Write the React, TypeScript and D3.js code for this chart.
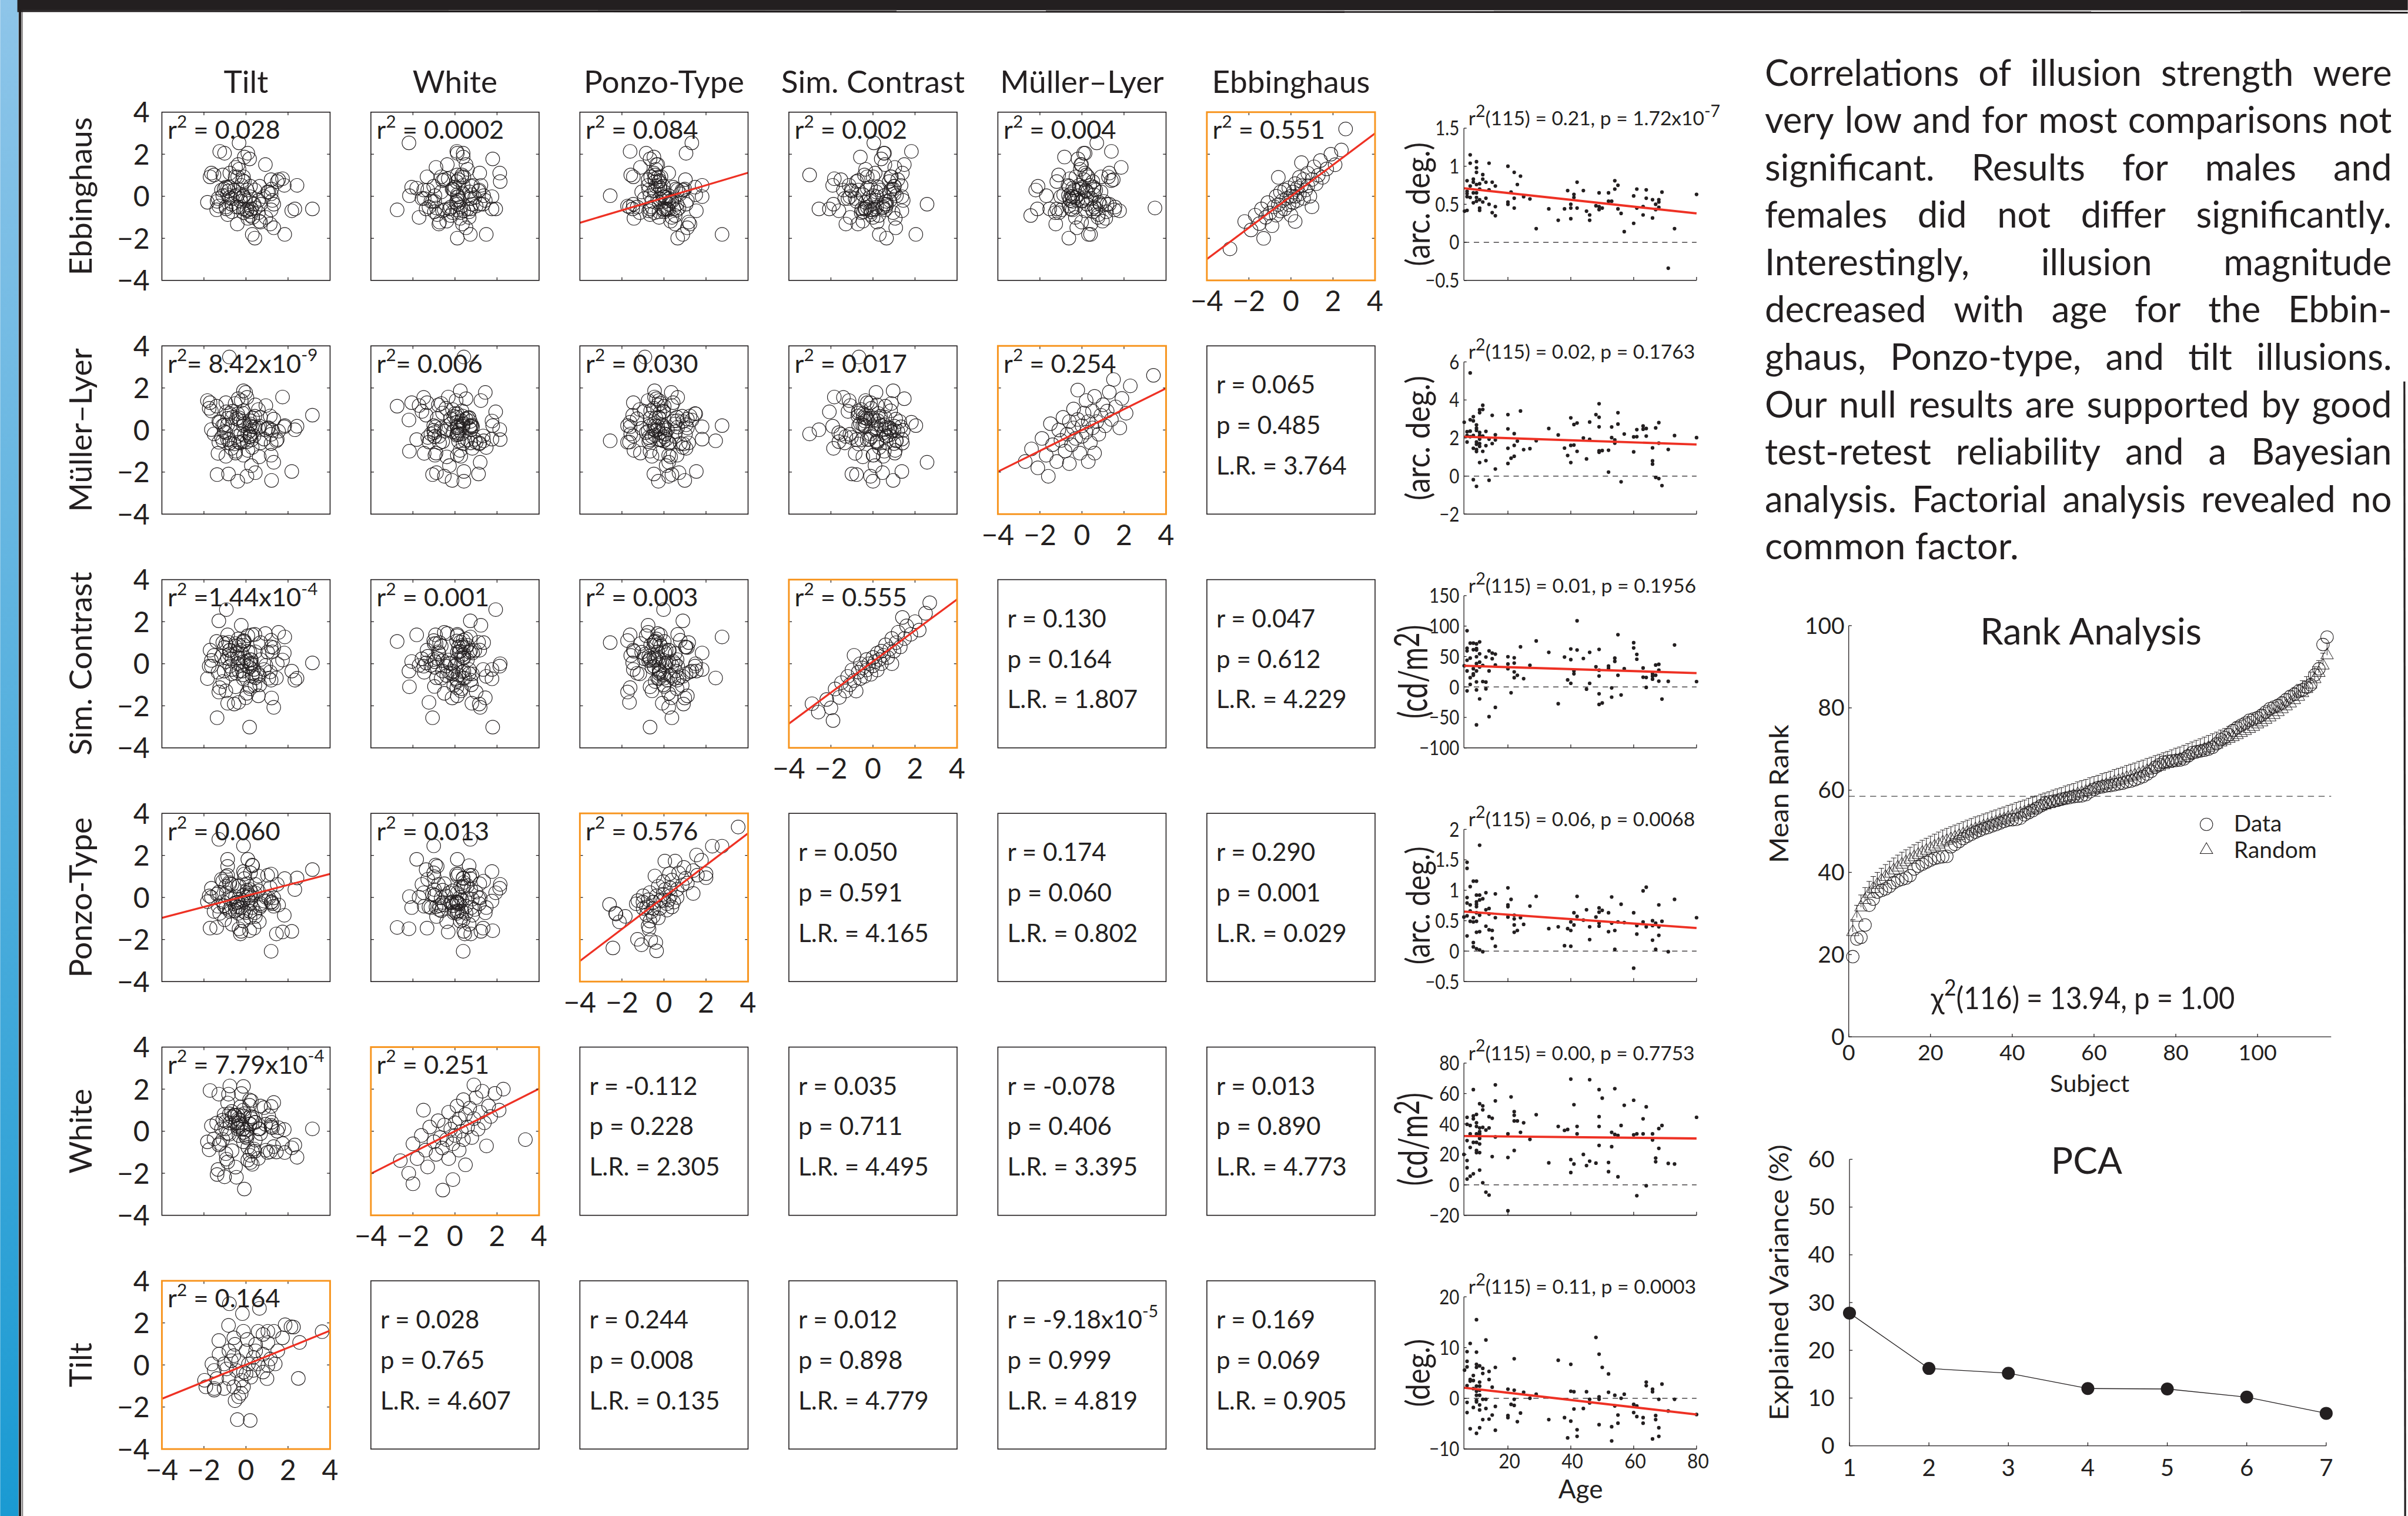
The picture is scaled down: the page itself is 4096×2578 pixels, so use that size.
import React from 'react';
import * as d3 from 'd3';

// ---------- canvas / style ----------
const VW = 6313, VH = 3974;
const OUT_W = 4096, OUT_H = 2578;
const FONT = "Lato, 'Noto Sans', sans-serif";
const INK = '#231f20';
const RED = '#ee3124';
const ORANGE = '#f7941d';

// ---------- matrix labels ----------
const COL_NAMES = ['Tilt', 'White', 'Ponzo-Type', 'Sim. Contrast', 'Müller–Lyer', 'Ebbinghaus'];
const ROW_NAMES = ['Ebbinghaus', 'Müller–Lyer', 'Sim. Contrast', 'Ponzo-Type', 'White', 'Tilt'];
const COL_KEYS = ['tilt', 'white', 'ponzo', 'sc', 'ml', 'ebb'];
const ROW_KEYS = ['ebb', 'ml', 'sc', 'ponzo', 'white', 'tilt'];
const SCATTER_TICKS = [-4, -2, 0, 2, 4];

const SCATTER_R2 = [
  ['r^{2} = 0.028', 'r^{2} = 0.0002', 'r^{2} = 0.084', 'r^{2} = 0.002', 'r^{2} = 0.004', 'r^{2} = 0.551'],
  ['r^{2}= 8.42x10^{-9}', 'r^{2}= 0.006', 'r^{2} = 0.030', 'r^{2} = 0.017', 'r^{2} = 0.254'],
  ['r^{2} =1.44x10^{-4}', 'r^{2} = 0.001', 'r^{2} = 0.003', 'r^{2} = 0.555'],
  ['r^{2} = 0.060', 'r^{2} = 0.013', 'r^{2} = 0.576'],
  ['r^{2} = 7.79x10^{-4}', 'r^{2} = 0.251'],
  ['r^{2} = 0.164'],
];

// [row, col, r, p, L.R.]
const STAT_CELLS = [
  [1, 5, '0.065', '0.485', '3.764'],
  [2, 4, '0.130', '0.164', '1.807'],
  [2, 5, '0.047', '0.612', '4.229'],
  [3, 3, '0.050', '0.591', '4.165'],
  [3, 4, '0.174', '0.060', '0.802'],
  [3, 5, '0.290', '0.001', '0.029'],
  [4, 2, '-0.112', '0.228', '2.305'],
  [4, 3, '0.035', '0.711', '4.495'],
  [4, 4, '-0.078', '0.406', '3.395'],
  [4, 5, '0.013', '0.890', '4.773'],
  [5, 1, '0.028', '0.765', '4.607'],
  [5, 2, '0.244', '0.008', '0.135'],
  [5, 3, '0.012', '0.898', '4.779'],
  [5, 4, '-9.18x10^{-5}', '0.999', '4.819'],
  [5, 5, '0.169', '0.069', '0.905'],
];

// regression lines in scatter cells: [row, col, y at x=-4, y at x=4]
const SCATTER_FITS = [
  [0, 2, -1.26, 1.12],
  [0, 5, -2.99, 2.99],
  [1, 4, -1.98, 1.98],
  [2, 3, -2.85, 3.06],
  [3, 0, -0.97, 1.12],
  [3, 2, -3.02, 3.05],
  [4, 1, -2.02, 2.02],
  [5, 0, -1.61, 1.63],
];

// ---------- test-retest (diagonal) z-scores [session1, session2] ----------
const DIAG_EBB = [[-2.9,-2.5],[-2.2,-1.2],[-1.9,-1.6],[-1.7,-0.9],[-1.5,-1.3],[-1.4,-0.6],[-1.2,-1.0],[-1.1,-0.3],[-1.0,-0.8],[-0.9,-1.4],[-0.8,-0.5],[-0.7,0.0],[-0.7,-0.9],[-0.6,-0.4],[-0.5,-0.7],[-0.5,0.2],[-0.4,-0.2],[-0.3,-0.6],[-0.3,0.3],[-0.2,-0.1],[-0.1,-0.4],[-0.1,0.4],[0.0,0.0],[0.0,-0.9],[0.1,0.2],[0.1,-0.3],[0.2,0.6],[0.2,0.0],[0.3,-0.2],[0.3,0.4],[0.4,0.9],[0.4,0.1],[0.5,0.5],[0.6,-0.1],[0.6,0.8],[0.7,0.3],[0.8,1.1],[0.8,0.5],[0.9,0.0],[1.0,0.8],[1.1,1.4],[1.2,0.6],[1.3,1.0],[1.4,1.7],[1.5,0.9],[1.7,1.3],[1.9,2.0],[2.1,1.5],[2.4,2.2],[0.5,1.6],[-0.6,0.9],[1.0,-0.5],[-1.3,-2.0],[2.6,3.2],[0.2,-1.2]];
const DIAG_ML = [[-2.7,-1.5],[-2.4,-0.9],[-2.1,-1.8],[-1.9,-0.4],[-1.7,-1.2],[-1.5,0.3],[-1.4,-0.7],[-1.2,-1.5],[-1.1,0.0],[-1.0,-0.5],[-0.9,0.6],[-0.8,-1.0],[-0.7,-0.2],[-0.6,0.4],[-0.5,-0.7],[-0.4,1.0],[-0.4,0.1],[-0.3,-0.4],[-0.2,0.5],[-0.1,-1.1],[0.0,0.2],[0.0,-0.3],[0.1,0.8],[0.2,-0.1],[0.2,1.4],[0.3,0.4],[0.4,-0.6],[0.5,0.1],[0.5,0.9],[0.6,1.6],[0.7,0.4],[0.8,-0.2],[0.9,0.7],[1.0,1.2],[1.1,0.2],[1.2,0.9],[1.3,1.8],[1.4,0.5],[1.6,1.1],[1.8,0.1],[1.9,1.5],[2.1,0.8],[2.3,2.1],[3.4,2.6],[-0.6,-1.6],[0.6,-1.1],[-1.6,-2.2],[1.5,2.4],[-0.2,1.9],[0.3,-1.5]];
const DIAG_SC = [[-2.6,-2.3],[-2.2,-1.7],[-2.0,-2.1],[-1.8,-1.2],[-1.6,-1.6],[-1.5,-0.9],[-1.3,-1.3],[-1.2,-0.6],[-1.1,-1.0],[-1.0,-0.3],[-0.9,-0.8],[-0.8,-1.3],[-0.7,-0.4],[-0.6,0.0],[-0.6,-0.7],[-0.5,-0.2],[-0.4,-0.6],[-0.3,0.2],[-0.3,-0.3],[-0.2,0.0],[-0.1,-0.5],[0.0,0.3],[0.0,-0.1],[0.1,0.1],[0.2,0.5],[0.2,-0.3],[0.3,0.2],[0.4,0.6],[0.4,0.0],[0.5,0.4],[0.6,0.9],[0.7,0.3],[0.8,0.7],[0.9,1.2],[1.0,0.6],[1.1,1.0],[1.2,1.5],[1.3,0.8],[1.5,1.2],[1.6,1.8],[1.8,1.4],[2.0,2.0],[2.2,1.6],[2.5,2.4],[-1.9,-2.7],[1.4,2.2],[0.9,0.0],[-0.9,0.4],[2.7,2.9],[-2.9,-1.9]];
const DIAG_PONZO = [[3.53,3.35],[2.30,2.44],[2.76,2.44],[1.55,2.02],[1.78,1.77],[0.04,1.73],[0.53,1.73],[0.95,1.43],[-0.43,1.02],[0.26,1.13],[0.70,1.17],[1.39,1.28],[1.59,1.06],[2.00,0.94],[1.03,0.91],[1.39,0.19],[0.38,0.83],[-0.03,0.75],[0.87,0.60],[-0.27,0.53],[0.30,0.45],[0.62,0.38],[-0.67,0.23],[-0.35,0.08],[-0.03,0.15],[0.30,0.08],[0.62,0.0],[-1.24,-0.15],[-1.0,-0.22],[-0.75,-0.11],[-0.51,-0.22],[-0.19,-0.15],[0.14,-0.30],[0.46,-0.22],[-0.83,-0.45],[-0.51,-0.52],[-0.19,-0.52],[0.14,-0.60],[0.38,-0.45],[-0.83,-0.82],[-0.51,-0.90],[-0.27,-0.97],[-0.67,-1.12],[-0.75,-1.35],[-0.71,-1.50],[-2.59,-0.33],[-2.30,-0.75],[-2.28,-0.79],[-1.84,-0.90],[-2.12,-1.16],[-2.43,-2.40],[-1.26,-1.99],[-1.07,-2.25],[-0.63,-2.02],[-0.39,-2.14],[-0.35,-2.54],[-0.99,0.08],[-1.32,-0.30],[0.06,0.38],[1.11,0.68],[2.0,1.13],[-0.03,-0.15],[0.22,-0.11],[-0.59,-0.67],[-0.99,-0.52]];
const DIAG_WHITE = [[-2.6,-1.4],[-2.2,-2.0],[-2.0,-0.6],[-1.8,-1.3],[-1.6,-0.2],[-1.4,-0.9],[-1.3,-1.7],[-1.2,0.2],[-1.0,-0.5],[-0.9,-1.1],[-0.8,0.5],[-0.7,-0.3],[-0.6,-0.8],[-0.58,-2.8],[-0.5,0.3],[-0.4,-0.4],[-0.3,0.9],[-0.3,-1.3],[-0.2,0.1],[-0.1,-0.6],[0.0,0.4],[0.0,-0.2],[0.1,1.2],[0.2,-0.9],[0.2,0.6],[0.3,0.0],[0.4,1.5],[0.4,-0.4],[0.5,0.8],[0.6,0.2],[0.7,1.1],[0.8,-0.3],[0.9,0.6],[1.0,1.6],[1.1,0.1],[1.2,0.9],[1.3,1.9],[1.4,0.4],[1.6,1.2],[1.7,0.7],[1.9,1.8],[2.1,1.0],[2.3,2.0],[3.35,-0.4],[-0.1,-2.3],[0.5,-1.6],[-1.5,1.0],[0.9,2.2],[-2.0,-2.5],[1.5,-0.7]];
const DIAG_TILT = [[-0.79,2.91],[-0.17,2.44],[0.64,2.69],[-0.83,1.88],[2.14,1.81],[2.26,1.80],[3.62,1.58],[-1.29,1.16],[-0.58,1.29],[-0.12,1.60],[0.58,1.60],[1.04,1.60],[1.33,1.60],[0.81,1.45],[1.74,1.29],[2.55,1.07],[0.06,1.21],[0.46,0.98],[1.04,1.06],[-0.52,0.98],[-0.81,0.67],[0.0,0.67],[1.51,0.67],[0.81,0.51],[-1.28,0.51],[-0.58,0.44],[0.35,0.36],[1.16,0.28],[-1.62,0.05],[-1.04,0.05],[-0.35,0.20],[0.12,0.05],[0.58,0.05],[1.04,-0.03],[1.39,0.05],[-1.51,-0.26],[-0.93,-0.19],[-0.46,-0.26],[-0.12,-0.34],[0.35,-0.26],[0.81,-0.34],[2.49,-0.64],[-1.97,-0.73],[-1.39,-0.65],[-0.81,-0.65],[-0.23,-0.73],[0.23,-0.58],[1.0,-0.65],[-1.91,-1.04],[-1.51,-1.12],[-1.04,-1.12],[-0.58,-1.04],[-0.12,-1.04],[-1.51,-1.20],[-0.23,-1.35],[-0.35,-1.51],[-0.52,-1.70],[-0.41,-2.60],[0.20,-2.64],[0.0,-0.42],[-0.70,0.20],[0.46,0.67],[1.86,1.91]];
const DIAG_BY_ROW = [DIAG_EBB, DIAG_ML, DIAG_SC, DIAG_PONZO, DIAG_WHITE, DIAG_TILT];

// ---------- illusion magnitude vs age: [age, value] ----------
const EBB_AGE = [[6.2,0.41],[7,0.81],[7,0.67],[7,0.64],[7,0.60],[7,0.42],[8,1.15],[8,1.04],[8,0.74],[8,0.59],[9,0.83],[9,0.79],[9,0.65],[9,0.52],[10,1.06],[10,0.98],[10,0.92],[10,0.76],[10,0.65],[10,0.59],[10,0.54],[11,0.77],[11,0.70],[11,0.56],[11,0.45],[11,0.42],[12,0.89],[12,0.83],[12,0.53],[13,0.79],[13,0.58],[14,1.04],[14,0.69],[14,0.50],[15,0.79],[15,0.39],[16,0.74],[16,0.47],[16,0.35],[20,1.0],[20,0.53],[20,0.50],[21,0.66],[22,0.92],[22,0.58],[22,0.45],[23,0.76],[24,0.87],[25,0.60],[27,0.57],[29,0.18],[33,0.44],[36,0.29],[38,0.44],[39,0.68],[40,0.50],[40,0.45],[40,0.31],[41,0.63],[41,0.59],[42,0.79],[42,0.45],[44,0.68],[45,0.41],[46,0.36],[46,0.29],[48,0.48],[49,0.65],[49,0.47],[49,0.43],[50,0.45],[52,0.65],[52,0.54],[53,0.54],[54,0.81],[54,0.70],[55,0.75],[55,0.44],[56,0.38],[57,0.14],[60,0.61],[60,0.25],[61,0.70],[61,0.45],[63,0.47],[63,0.36],[64,0.69],[64,0.58],[66,0.56],[66,0.32],[67,0.50],[67,0.43],[68,0.56],[68,0.53],[68,0.46],[69,0.66],[71,-0.34],[73,0.18],[80,0.63]];
const ML_AGE = [[6.1,2.83],[7,2.33],[7,2.13],[7,1.79],[8,5.42],[8,2.96],[8,2.36],[8,2.07],[9,3.12],[9,2.90],[9,2.13],[9,1.46],[9,-0.19],[10,2.69],[10,2.52],[10,2.40],[10,1.79],[10,1.67],[10,1.40],[10,1.29],[10,-0.54],[11,3.48],[11,3.33],[11,2.29],[11,2.13],[11,1.94],[11,1.71],[11,1.56],[11,0.71],[12,3.72],[12,3.50],[12,2.10],[12,1.30],[13,2.35],[13,1.60],[13,0.81],[14,1.94],[14,-0.22],[15,3.19],[15,1.71],[16,2.17],[16,1.90],[16,0.37],[20,3.23],[20,2.48],[20,1.46],[20,0.66],[21,0.94],[22,2.23],[22,1.61],[22,1.04],[23,1.84],[24,3.42],[25,1.39],[27,1.44],[29,1.86],[33,2.50],[36,2.16],[38,1.47],[39,1.08],[40,3.06],[40,1.61],[40,0.71],[41,2.71],[41,1.63],[42,2.79],[42,1.30],[44,2.00],[45,0.90],[46,2.84],[46,1.93],[48,3.23],[49,3.80],[49,3.09],[49,2.59],[49,1.33],[49,1.25],[50,1.34],[52,1.36],[52,0.21],[53,2.58],[53,2.02],[54,1.90],[54,1.73],[55,3.33],[55,2.73],[56,-0.30],[57,2.21],[60,2.06],[60,1.27],[61,2.44],[61,2.07],[63,2.63],[63,2.46],[64,2.50],[64,2.10],[66,1.48],[66,0.80],[66,0.63],[67,2.53],[67,-0.07],[68,2.81],[68,1.73],[68,-0.13],[69,-0.50],[71,1.40],[73,2.13],[80,2.02]];
const SC_AGE = [[6.1,34.8],[7,92.4],[7,63.6],[7,59.3],[7,43.9],[7,26.4],[7,-6.4],[8,72.0],[8,47.3],[8,15.2],[8,4.1],[9,72.0],[9,61.2],[9,30.0],[9,21.6],[9,19.2],[10,70.8],[10,63.1],[10,60.7],[10,49.7],[10,38.4],[10,26.4],[10,8.4],[10,-4.8],[10,-62.3],[11,74.0],[11,54.5],[11,40.8],[11,32.9],[11,-19.6],[12,35.3],[12,8.9],[13,49.2],[13,8.0],[13,-3.1],[14,59.3],[14,26.4],[14,-48.7],[15,55.7],[15,46.4],[16,54.0],[16,36.0],[16,-33.5],[20,49.7],[20,37.7],[20,30.0],[21,-9.5],[22,48.0],[22,39.2],[22,24.8],[22,15.2],[23,19.2],[24,66.0],[25,13.7],[27,35.6],[29,75.6],[33,56.9],[36,-27.5],[38,49.2],[39,11.6],[40,62.4],[40,44.9],[40,6.0],[41,26.4],[41,21.6],[42,108.7],[42,60.7],[44,46.8],[45,-3.6],[46,56.9],[46,6.0],[48,33.2],[49,61.7],[49,27.6],[49,18.0],[49,-11.2],[49,-28.7],[50,-26.3],[52,34.4],[52,30.8],[53,-1.6],[53,-16.7],[54,47.3],[54,42.0],[55,85.9],[55,19.2],[56,-13.1],[57,30.0],[60,72.7],[60,64.1],[61,53.5],[61,45.6],[63,31.2],[63,16.1],[64,15.6],[64,-0.7],[66,21.6],[66,17.6],[66,12.8],[67,36.0],[67,19.2],[68,37.2],[68,27.6],[68,9.6],[69,-19.9],[71,9.2],[73,68.9],[80,8.9]];
const PONZO_AGE = [[6,0.56],[7,1.46],[7,1.36],[7,0.88],[7,0.79],[7,0.58],[7,0.25],[8,1.06],[8,0.76],[8,0.66],[8,0.49],[9,1.15],[9,0.55],[9,0.48],[9,0.14],[9,0.07],[10,1.15],[10,0.92],[10,0.81],[10,0.77],[10,0.73],[10,0.63],[10,0.49],[10,0.31],[10,0.04],[11,1.74],[11,0.92],[11,0.84],[11,0.59],[11,0.32],[11,0.02],[12,0.86],[12,-0.01],[13,0.96],[13,0.68],[13,0.41],[14,0.70],[14,0.61],[14,0.35],[15,0.34],[15,0.21],[16,0.94],[16,0.55],[16,0.08],[20,1.04],[20,0.76],[20,0.73],[20,0.56],[21,0.85],[22,0.59],[22,0.53],[22,0.43],[22,0.31],[23,0.34],[24,0.55],[25,0.44],[27,0.74],[29,0.90],[33,0.37],[36,0.40],[38,0.09],[39,0.37],[40,0.48],[40,0.34],[40,0.08],[41,0.63],[41,0.43],[42,0.90],[42,0.57],[44,0.51],[45,0.68],[46,0.40],[46,0.19],[48,0.56],[49,0.71],[49,0.64],[49,0.46],[49,0.41],[50,0.67],[52,0.63],[52,0.32],[53,0.89],[53,0.46],[54,0.34],[54,0.03],[55,0.48],[56,0.77],[57,0.47],[60,0.63],[60,-0.28],[61,0.42],[61,0.28],[63,0.99],[63,0.48],[64,1.05],[64,0.40],[66,0.50],[66,0.42],[66,0.18],[67,0.46],[67,0.03],[68,0.76],[68,0.40],[68,0.26],[69,0.49],[71,-0.01],[73,0.85],[80,0.55]];
const WHITE_AGE = [[6,20.0],[7,44.4],[7,39.8],[7,29.1],[7,16.0],[7,11.3],[7,3.8],[8,39.0],[8,33.5],[8,24.6],[8,5.7],[9,62.6],[9,45.3],[9,43.4],[9,27.9],[9,7.3],[10,46.3],[10,40.8],[10,38.4],[10,33.5],[10,27.9],[10,22.6],[10,21.2],[11,53.3],[11,37.4],[11,35.0],[11,33.5],[11,30.5],[11,26.9],[11,21.2],[11,9.7],[12,51.9],[12,49.3],[12,37.8],[12,1.4],[13,36.0],[13,-4.8],[14,44.8],[14,37.4],[14,-6.7],[15,43.8],[15,18.6],[16,65.7],[16,55.2],[16,31.5],[20,33.5],[20,18.0],[20,-17.0],[21,57.8],[22,48.1],[22,45.7],[22,42.0],[22,22.6],[23,42.0],[24,34.5],[25,40.8],[27,29.9],[29,46.1],[33,14.5],[36,38.4],[38,35.8],[39,36.4],[40,69.5],[40,16.6],[40,8.1],[41,52.7],[41,13.7],[42,38.4],[42,33.5],[44,20.0],[45,12.7],[46,69.1],[46,15.6],[48,14.3],[49,62.6],[49,44.8],[49,38.4],[49,25.9],[50,57.0],[52,14.7],[52,8.7],[53,34.5],[53,25.1],[54,63.2],[54,33.1],[55,32.5],[55,5.3],[56,39.0],[57,52.3],[60,55.6],[60,32.9],[61,33.5],[61,-7.1],[63,43.4],[63,33.5],[64,51.3],[64,-0.6],[66,33.5],[66,29.5],[67,17.6],[67,15.2],[68,37.0],[68,24.0],[69,39.0],[71,14.1],[73,13.7],[80,44.4]];
const TILT_AGE = [[6.2,5.55],[7,9.2],[7,7.3],[7,6.2],[7,2.5],[7,-0.8],[7,-2.8],[8,10.8],[8,3.7],[8,3.4],[8,-6.0],[9,4.5],[9,3.5],[9,1.9],[9,-1.8],[10,15.5],[10,9.1],[10,6.7],[10,6.1],[10,2.4],[10,1.4],[10,0.6],[10,-0.4],[10,-0.7],[10,-6.9],[11,6.4],[11,3.2],[11,2.4],[11,1.6],[11,0.6],[11,-1.3],[11,-2.3],[11,-5.8],[12,5.9],[12,4.9],[12,-0.2],[12,-4.2],[13,11.5],[13,-0.2],[13,-2.0],[14,5.3],[14,3.7],[14,-4.1],[15,2.2],[15,-3.3],[16,6.1],[16,-1.6],[16,-6.3],[20,1.8],[20,-3.4],[20,-3.8],[21,-1.2],[22,7.8],[22,1.6],[22,-0.2],[22,-1.4],[23,-4.6],[24,-2.9],[25,1.2],[27,0.0],[29,0.8],[33,-4.2],[36,7.5],[38,-3.8],[39,-7.8],[40,6.7],[40,1.4],[40,-4.5],[41,1.3],[41,-2.1],[42,-6.2],[42,-7.5],[44,-2.0],[45,1.3],[46,-0.2],[46,-0.9],[48,12.0],[49,8.7],[49,0.3],[49,-0.2],[49,-5.2],[50,6.1],[52,4.8],[52,1.2],[53,-5.6],[53,-8.4],[54,0.6],[54,-1.5],[55,-3.3],[55,-4.9],[56,0.0],[57,0.8],[60,-1.2],[60,-2.8],[61,-1.5],[61,-3.6],[63,-3.8],[63,-4.9],[64,3.2],[64,2.5],[66,1.8],[66,1.3],[66,-8.0],[67,-3.4],[67,-4.2],[68,-0.2],[68,-5.8],[68,-7.5],[69,2.8],[71,-2.5],[73,-0.2],[80,-3.2]];
const AGE_SERIES: Record<string, number[][]> = { ebb: EBB_AGE, ml: ML_AGE, sc: SC_AGE, ponzo: PONZO_AGE, white: WHITE_AGE, tilt: TILT_AGE };

const AGE_RANGE = [6, 80];
const AGE_X_TICKS = [20, 40, 60, 80];
const AGE_DOMAINS = [[-0.5, 1.5], [-2, 6], [-100, 150], [-0.5, 2], [-20, 80], [-10, 20]];
const AGE_TICKS = [[-0.5, 0, 0.5, 1, 1.5], [-2, 0, 2, 4, 6], [-100, -50, 0, 50, 100, 150], [-0.5, 0, 0.5, 1, 1.5, 2], [-20, 0, 20, 40, 60, 80], [-10, 0, 10, 20]];
const AGE_FITS = [[0.711, 0.38], [2.07, 1.66], [34.8, 22.8], [0.65, 0.38], [32.1, 30.5], [2.09, -3.19]]; // value at age 6 and 80
const AGE_TITLES = [
  'r^{2}(115) = 0.21, p = 1.72x10^{-7}',
  'r^{2}(115) = 0.02, p = 0.1763',
  'r^{2}(115) = 0.01, p = 0.1956',
  'r^{2}(115) = 0.06, p = 0.0068',
  'r^{2}(115) = 0.00, p = 0.7753',
  'r^{2}(115) = 0.11, p = 0.0003',
];
const AGE_UNITS = ['(arc. deg.)', '(arc. deg.)', '(cd/m^{2})', '(arc. deg.)', '(cd/m^{2})', '(deg.)'];

// ---------- paragraph ----------
const PARA_LINES = [
  'Correlations of illusion strength were',
  'very low and for most comparisons not',
  'significant. Results for males and',
  'females did not differ significantly.',
  'Interestingly, illusion magnitude',
  'decreased with age for the Ebbin-',
  'ghaus, Ponzo-type, and tilt illusions.',
  'Our null results are supported by good',
  'test-retest reliability and a Bayesian',
  'analysis. Factorial analysis revealed no',
  'common factor.',
];

// ---------- rank analysis ----------
const RANK_DATA = [19.5,23.8,24.2,27.2,32.0,33.5,35.2,35.6,36.0,36.6,37.5,38.0,38.3,38.6,39.2,40.8,41.5,42.0,42.5,43.0,43.4,43.6,43.8,43.9,46.2,46.8,47.5,48.2,48.8,49.3,49.8,50.2,50.6,50.9,51.3,51.6,52.0,52.4,52.7,52.8,52.9,53.2,54.0,54.5,55.0,55.6,56.2,56.8,57.1,57.3,57.5,57.8,58.0,58.2,58.4,58.5,58.6,58.9,59.6,60.2,60.6,60.8,61.0,61.1,61.3,61.5,61.7,62.0,62.2,62.5,62.9,63.3,63.9,64.6,65.6,66.2,66.8,67.0,67.1,67.2,67.3,67.6,68.3,69.1,69.3,69.5,69.7,70.0,70.4,71.3,72.3,72.8,73.5,74.5,75.2,75.8,76.3,77.0,77.3,77.6,78.2,79.0,79.8,80.2,80.6,81.2,82.0,82.8,83.3,84.0,84.4,85.0,85.6,88.0,89.5,95.4,97.2];
const RANK_RANDOM = [25.5,29.0,31.5,33.3,34.8,36.0,37.0,38.0,38.9,39.7,40.5,41.2,41.9,42.5,43.1,43.7,44.3,44.8,45.3,45.8,46.3,46.8,47.3,47.7,48.1,48.5,48.9,49.3,49.7,50.1,50.5,50.8,51.2,51.5,51.9,52.2,52.6,52.9,53.3,53.6,54.0,54.3,54.6,55.0,55.3,55.6,56.0,56.3,56.6,57.0,57.3,57.6,58.0,58.3,58.6,59.0,59.3,59.6,60.0,60.3,60.6,61.0,61.3,61.6,62.0,62.3,62.6,63.0,63.3,63.6,64.0,64.3,64.7,65.0,65.4,65.7,66.1,66.4,66.8,67.2,67.5,67.9,68.3,68.7,69.1,69.5,69.9,70.3,70.7,71.1,71.6,72.0,72.5,72.9,73.4,73.9,74.4,74.9,75.4,76.0,76.5,77.1,77.7,78.3,79.0,79.7,80.4,81.1,81.9,82.7,83.6,84.6,85.7,87.0,88.5,90.3,92.8];
const RANK_RANDOM_ERR = 3;
const RANK_MEAN = 58.5;
const RANK_X_TICKS = [0, 20, 40, 60, 80, 100];
const RANK_Y_TICKS = [0, 20, 40, 60, 80, 100];

// ---------- PCA ----------
const PCA_COMPONENTS = [1, 2, 3, 4, 5, 6, 7];
const PCA_VALUES = [27.8, 16.2, 15.2, 12.0, 11.9, 10.2, 6.8];
const PCA_Y_TICKS = [0, 10, 20, 30, 40, 50, 60];

// ---------- layout ----------
const BOX = 441;
const GX0 = 424, GDX = 548, GY0 = 294, GDY = 612.7;

const fmt = (v: number) => (v < 0 ? '\u2212' : '') + String(Math.abs(v));

function parseRich(s: string) {
  const out: { t: string; sup: boolean }[] = [];
  const re = /\^\{([^}]*)\}/g;
  let last = 0;
  let m: RegExpExecArray | null;
  while ((m = re.exec(s))) {
    if (m.index > last) out.push({ t: s.slice(last, m.index), sup: false });
    out.push({ t: m[1], sup: true });
    last = m.index + m[0].length;
  }
  if (last < s.length) out.push({ t: s.slice(last), sup: false });
  return out;
}

function Rich({ text, x = 0, y = 0, size, anchor = 'start', len, transform, supScale = 0.68, rise = 0.45 }: any) {
  const parts = parseRich(text);
  let up = false;
  return (
    <text x={x} y={y} fontSize={size} textAnchor={anchor} fill={INK} transform={transform}
      textLength={len} lengthAdjust={len ? 'spacingAndGlyphs' : undefined} style={{ whiteSpace: 'pre' }}>
      {parts.map((p, i) => {
        let dy = 0;
        if (p.sup && !up) dy = -rise * size;
        else if (!p.sup && up) dy = rise * size;
        up = p.sup;
        return <tspan key={i} dy={dy} fontSize={p.sup ? size * supScale : size}>{p.t}</tspan>;
      })}
    </text>
  );
}

let measureCtx: CanvasRenderingContext2D | null = null;
function measure(text: string, size: number) {
  if (!measureCtx) measureCtx = document.createElement('canvas').getContext('2d');
  if (!measureCtx) return text.length * size * 0.48;
  measureCtx.font = `${size}px Lato`;
  return measureCtx.measureText(text).width;
}

function zscores(pairs: number[][]) {
  const v = pairs.map(p => p[1]);
  const m = d3.mean(v) as number;
  const s = d3.deviation(v) as number;
  return v.map(x => (x - m) / s);
}
const Z: Record<string, number[]> = {};
Object.keys(AGE_SERIES).forEach(k => { Z[k] = zscores(AGE_SERIES[k]); });

function cellPoints(row: number, col: number): number[][] {
  if (row + col === 5) return DIAG_BY_ROW[row];
  const xs = Z[COL_KEYS[col]];
  const ys = Z[ROW_KEYS[row]].slice().reverse();
  const n = Math.min(xs.length, ys.length);
  return d3.range(n).map(i => [xs[i], ys[i]]).filter(p => Math.abs(p[0]) < 3.5 && Math.abs(p[1]) < 3.5);
}

function ScatterCell({ row, col }: { row: number; col: number }) {
  const x0 = GX0 + col * GDX, y0 = GY0 + row * GDY;
  const xs = d3.scaleLinear().domain([-4, 4]).range([x0, x0 + BOX]);
  const ys = d3.scaleLinear().domain([-4, 4]).range([y0 + BOX, y0]);
  const diag = row + col === 5;
  const pts = cellPoints(row, col);
  const fit = SCATTER_FITS.find(f => f[0] === row && f[1] === col);
  const clipId = `clip-${row}-${col}`;
  const inner = [-2, 0, 2];
  const tl = 8;
  return (
    <g>
      <defs>
        <clipPath id={clipId}><rect x={x0} y={y0} width={BOX} height={BOX} /></clipPath>
      </defs>
      <g clipPath={`url(#${clipId})`}>
        {pts.map((p, i) => (
          <circle key={i} cx={xs(p[0])} cy={ys(p[1])} r={18} fill="none" stroke={INK} strokeWidth={1.8} />
        ))}
        {fit && (
          <line x1={xs(-4)} y1={ys(fit[2])} x2={xs(4)} y2={ys(fit[3])} stroke={RED} strokeWidth={5} />
        )}
      </g>
      {inner.map(v => (
        <g key={v} stroke={INK} strokeWidth={2}>
          <line x1={xs(v)} x2={xs(v)} y1={y0 + BOX} y2={y0 + BOX - tl} />
          <line x1={xs(v)} x2={xs(v)} y1={y0} y2={y0 + tl} />
          <line x1={x0} x2={x0 + tl} y1={ys(v)} y2={ys(v)} />
          <line x1={x0 + BOX} x2={x0 + BOX - tl} y1={ys(v)} y2={ys(v)} />
        </g>
      ))}
      <rect x={x0} y={y0} width={BOX} height={BOX} fill="none" stroke={diag ? ORANGE : INK} strokeWidth={diag ? 4.5 : 2.5} />
      <Rich text={SCATTER_R2[row][col]} x={x0 + 15} y={y0 + 70} size={67} />
      {col === 0 && SCATTER_TICKS.map(v => (
        <text key={v} x={392} y={ys(v) + 27} fontSize={74} textAnchor="end" fill={INK}>{fmt(v)}</text>
      ))}
      {diag && SCATTER_TICKS.map(v => (
        <text key={v} x={xs(v)} y={y0 + BOX + 81} fontSize={74} textAnchor="middle" fill={INK}>{fmt(v)}</text>
      ))}
    </g>
  );
}

function StatCell({ row, col, r, p, lr }: any) {
  const x0 = GX0 + col * GDX, y0 = GY0 + row * GDY;
  return (
    <g>
      <rect x={x0} y={y0} width={BOX} height={BOX} fill="none" stroke={INK} strokeWidth={2.5} />
      <Rich text={`r = ${r}`} x={x0 + 25} y={y0 + 125} size={65} />
      <Rich text={`p = ${p}`} x={x0 + 25} y={y0 + 231} size={65} />
      <Rich text={`L.R. = ${lr}`} x={x0 + 25} y={y0 + 337} size={65} />
    </g>
  );
}

const AGE_X0 = 3838, AGE_X1 = 4448;
const AGE_TITLE_W = [660, 594, 597, 594, 593, 597];
const AGE_UNIT_W = [325, 327, 246, 310, 244, 178];
const AGE_UNIT_FS = [86, 86, 104, 86, 104, 86];
const AGE_TICK_FS = 54;

function AgePlot({ row }: { row: number }) {
  const yTop = GY0 + row * GDY + 42, yBot = GY0 + row * GDY + BOX;
  const xs = d3.scaleLinear().domain(AGE_RANGE).range([AGE_X0, AGE_X1]);
  const ys = d3.scaleLinear().domain(AGE_DOMAINS[row]).range([yBot, yTop]);
  const data = AGE_SERIES[ROW_KEYS[row]];
  const fit = AGE_FITS[row];
  const cy = (yTop + yBot) / 2;
  const last = row === 5;
  return (
    <g>
      <line x1={xs(AGE_RANGE[0])} x2={xs(AGE_RANGE[1])} y1={ys(0)} y2={ys(0)} stroke={INK} strokeWidth={2} strokeDasharray="14 12" />
      {data.map((d, i) => <circle key={i} cx={xs(d[0])} cy={ys(d[1])} r={4.8} fill={INK} />)}
      <line x1={xs(AGE_RANGE[0])} y1={ys(fit[0])} x2={xs(AGE_RANGE[1])} y2={ys(fit[1])} stroke={RED} strokeWidth={6} />
      <line x1={AGE_X0} x2={AGE_X0} y1={yTop} y2={yBot} stroke={INK} strokeWidth={2} />
      <line x1={AGE_X0} x2={AGE_X1} y1={yBot} y2={yBot} stroke={INK} strokeWidth={2.5} />
      {AGE_TICKS[row].map(v => {
        const s = fmt(v);
        return (
          <g key={v}>
            <line x1={AGE_X0} x2={AGE_X0 + 7} y1={ys(v)} y2={ys(v)} stroke={INK} strokeWidth={2} />
            <text x={3826} y={ys(v) + 19} fontSize={AGE_TICK_FS} textAnchor="end" fill={INK}
              textLength={measure(s, AGE_TICK_FS) * 0.84} lengthAdjust="spacingAndGlyphs">{s}</text>
          </g>
        );
      })}
      {AGE_X_TICKS.map(v => (
        <g key={v}>
          <line x1={xs(v)} x2={xs(v)} y1={yBot} y2={yBot - 9} stroke={INK} strokeWidth={2} />
          {last && <text x={xs(v) + 4} y={yBot + 50} fontSize={AGE_TICK_FS} textAnchor="middle" fill={INK}
            textLength={measure(String(v), AGE_TICK_FS) * 0.9} lengthAdjust="spacingAndGlyphs">{v}</text>}
        </g>
      ))}
      <Rich text={AGE_TITLES[row]} x={3850} y={yTop - 8} size={52} len={AGE_TITLE_W[row]} supScale={0.85} rise={0.42} />
      <Rich text={AGE_UNITS[row]} size={AGE_UNIT_FS[row]} anchor="middle" len={AGE_UNIT_W[row]} supScale={0.9} rise={0.2}
        transform={`translate(${AGE_UNITS[row].includes('cd') ? 3742 : 3748},${cy}) rotate(-90)`} />
      {last && <text x={4144} y={3928} fontSize={68} textAnchor="middle" fill={INK}>Age</text>}
    </g>
  );
}

const PARA_LEFT = 4627, PARA_RIGHT = 6271, PARA_BASE = 225, PARA_STEP = 124.1, PARA_FS = 95, PARA_LAST_W = 666;

function Paragraph() {
  const L = PARA_RIGHT - PARA_LEFT;
  return (
    <g fill={INK} fontSize={PARA_FS}>
      {PARA_LINES.map((line, i) => {
        const y = PARA_BASE + i * PARA_STEP;
        if (i === PARA_LINES.length - 1) {
          return <text key={i} x={PARA_LEFT} y={y} textLength={PARA_LAST_W} lengthAdjust="spacingAndGlyphs">{line}</text>;
        }
        const words = line.split(' ');
        const ws = words.map(w => measure(w, PARA_FS));
        const sp = measure('a a', PARA_FS) - 2 * measure('a', PARA_FS);
        const total = d3.sum(ws);
        const n = words.length;
        let k = 1;
        const minGap = sp * 0.75;
        if (total + (n - 1) * minGap > L) k = (L - (n - 1) * minGap) / total;
        const gap = (L - k * total) / (n - 1);
        let x = PARA_LEFT;
        return (
          <g key={i}>
            {words.map((w, j) => {
              const el = <text key={j} x={x} y={y} textLength={k * ws[j]} lengthAdjust="spacingAndGlyphs">{w}</text>;
              x += k * ws[j] + gap;
              return el;
            })}
          </g>
        );
      })}
    </g>
  );
}

function RankPlot() {
  const x = d3.scaleLinear().domain([0, 118]).range([4847, 6112]);
  const y = d3.scaleLinear().domain([0, 100]).range([2718, 1640]);
  const tri = d3.symbol().type(d3.symbolTriangle).size(470)() as string;
  return (
    <g>
      <line x1={x(0)} x2={x(118)} y1={y(RANK_MEAN)} y2={y(RANK_MEAN)} stroke="#444" strokeWidth={2} strokeDasharray="16 12" />
      {RANK_RANDOM.map((v, i) => (
        <g key={i} stroke={INK} strokeWidth={1.5} fill="none">
          <line x1={x(i + 1)} x2={x(i + 1)} y1={y(v)} y2={y(v + RANK_RANDOM_ERR)} />
          <line x1={x(i + 1) - 7} x2={x(i + 1) + 7} y1={y(v + RANK_RANDOM_ERR)} y2={y(v + RANK_RANDOM_ERR)} />
          <path d={tri} transform={`translate(${x(i + 1)},${y(v)})`} />
        </g>
      ))}
      {RANK_DATA.map((v, i) => (
        <circle key={i} cx={x(i + 1)} cy={y(v)} r={16.5} fill="none" stroke={INK} strokeWidth={1.6} />
      ))}
      <line x1={x(0)} x2={x(0)} y1={y(0)} y2={y(100)} stroke={INK} strokeWidth={2} />
      <line x1={x(0)} x2={x(118)} y1={y(0)} y2={y(0)} stroke={INK} strokeWidth={2} />
      {RANK_Y_TICKS.map(v => (
        <g key={v}>
          <line x1={x(0)} x2={x(0) + 8} y1={y(v)} y2={y(v)} stroke={INK} strokeWidth={2} />
          <text x={4836} y={y(v) + 21} fontSize={60} textAnchor="end" fill={INK}>{v}</text>
        </g>
      ))}
      {RANK_X_TICKS.map(v => (
        <g key={v}>
          <line x1={x(v)} x2={x(v)} y1={y(0)} y2={y(0) - 8} stroke={INK} strokeWidth={2} />
          <text x={x(v)} y={2780} fontSize={58} textAnchor="middle" fill={INK}>{v}</text>
        </g>
      ))}
      <text x={5482} y={1690} fontSize={94} textAnchor="middle" fill={INK} textLength={581} lengthAdjust="spacingAndGlyphs">Rank Analysis</text>
      <text x={5479} y={2862} fontSize={64} textAnchor="middle" fill={INK}>Subject</text>
      <text transform={`translate(4688,2081) rotate(-90)`} fontSize={70} textAnchor="middle" fill={INK} textLength={363} lengthAdjust="spacingAndGlyphs">Mean Rank</text>
      <circle cx={5785} cy={2161} r={16.5} fill="none" stroke={INK} strokeWidth={1.6} />
      <text x={5857} y={2180} fontSize={60} fill={INK}>Data</text>
      <path d={tri} transform={`translate(5785,2228)`} fill="none" stroke={INK} strokeWidth={1.6} />
      <text x={5857} y={2249} fontSize={60} fill={INK}>Random</text>
      <Rich text={'\u03c7^{2}(116) = 13.94, p = 1.00'} x={5461} y={2645} size={80} anchor="middle" len={797} supScale={0.75} />
    </g>
  );
}

function PcaPlot() {
  const x = d3.scaleLinear().domain([1, 7]).range([4849, 6099]);
  const y = d3.scaleLinear().domain([0, 60]).range([3790, 3039]);
  const line = d3.line<number>().x((_, i) => x(PCA_COMPONENTS[i])).y(v => y(v));
  return (
    <g>
      <line x1={x(1)} x2={x(1)} y1={y(0)} y2={y(60)} stroke={INK} strokeWidth={2} />
      <line x1={x(1)} x2={x(7)} y1={y(0)} y2={y(0)} stroke={INK} strokeWidth={2} />
      {PCA_Y_TICKS.map(v => (
        <g key={v}>
          <line x1={x(1)} x2={x(1) + 8} y1={y(v)} y2={y(v)} stroke={INK} strokeWidth={2} />
          <text x={4810} y={y(v) + 21} fontSize={60} textAnchor="end" fill={INK}>{v}</text>
        </g>
      ))}
      {PCA_COMPONENTS.map(v => (
        <g key={v}>
          <line x1={x(v)} x2={x(v)} y1={y(0)} y2={y(0) - 9} stroke={INK} strokeWidth={2} />
          <text x={x(v)} y={3869} fontSize={62} textAnchor="middle" fill={INK}>{v}</text>
        </g>
      ))}
      <path d={line(PCA_VALUES) as string} fill="none" stroke={INK} strokeWidth={2} />
      {PCA_VALUES.map((v, i) => <circle key={i} cx={x(PCA_COMPONENTS[i])} cy={y(v)} r={17} fill={INK} />)}
      <text x={5471} y={3077} fontSize={96} textAnchor="middle" fill={INK}>PCA</text>
      <text transform={`translate(4688,3362) rotate(-90)`} fontSize={70} textAnchor="middle" fill={INK} textLength={724} lengthAdjust="spacingAndGlyphs">Explained Variance (%)</text>
    </g>
  );
}

export default function App() {
  const rows = d3.range(6);
  return (
    <svg width={OUT_W} height={OUT_H} viewBox={`0 0 ${VW} ${VH}`} fontFamily={FONT}
      style={{ position: 'absolute', left: 0, top: 0, display: 'block' }}>
      <defs>
        <linearGradient id="stripe" x1="0" y1="0" x2="0" y2="1">
          <stop offset="0" stopColor="#8ec5e9" />
          <stop offset="1" stopColor="#1a9ad2" />
        </linearGradient>
      </defs>
      <rect x={0} y={0} width={VW} height={VH} fill="#ffffff" />
      {/* decorative frame */}
      <rect x={0} y={0} width={48} height={VH} fill="url(#stripe)" />
      <line x1={52} y1={0} x2={52} y2={VH} stroke={INK} strokeWidth={7} />
      <line x1={58} y1={0} x2={59} y2={VH} stroke={INK} strokeWidth={1.5} />
      <rect x={45} y={0} width={VW - 45} height={27} fill={INK} />
      <line x1={45} y1={29} x2={VW} y2={33} stroke={INK} strokeWidth={5} />
      <line x1={6304} y1={1000} x2={6306} y2={VH} stroke={INK} strokeWidth={5} />

      {/* column titles & row labels */}
      {COL_NAMES.map((n, c) => (
        <text key={n} x={GX0 + c * GDX + BOX / 2} y={244} fontSize={82} textAnchor="middle" fill={INK}>{n}</text>
      ))}
      {ROW_NAMES.map((n, r) => (
        <text key={n} transform={`translate(240,${GY0 + r * GDY + BOX / 2}) rotate(-90)`} fontSize={82} textAnchor="middle" fill={INK}>{n}</text>
      ))}

      {/* correlation matrix */}
      {rows.map(r => d3.range(6 - r).map(c => <ScatterCell key={`${r}-${c}`} row={r} col={c} />))}
      {STAT_CELLS.map(s => <StatCell key={`${s[0]}-${s[1]}`} row={s[0]} col={s[1]} r={s[2]} p={s[3]} lr={s[4]} />)}

      {/* age plots */}
      {rows.map(r => <AgePlot key={r} row={r} />)}

      <Paragraph />
      <RankPlot />
      <PcaPlot />
    </svg>
  );
}
